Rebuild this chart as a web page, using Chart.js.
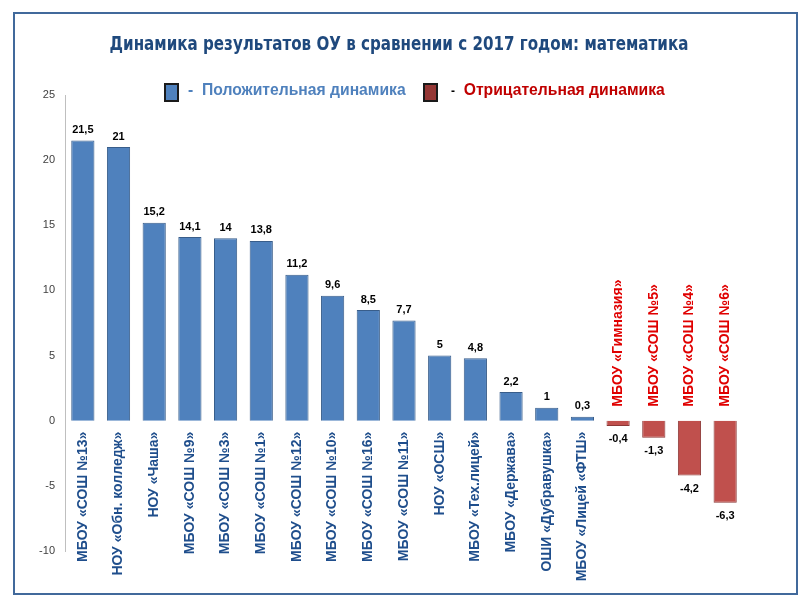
<!DOCTYPE html>
<html lang="ru">
<head>
<meta charset="UTF-8">
<title>Динамика результатов ОУ: математика</title>
<script src="https://cdn.jsdelivr.net/npm/chart.js@4.4.0/dist/chart.umd.min.js"></script>
<style>
  html, body { margin: 0; padding: 0; background: #fff; }
  #wrap { position: relative; width: 810px; height: 607px; }
  #frame { position: absolute; left: 13px; top: 12px; width: 781px; height: 579px;
           border: 2px solid #41699b; box-sizing: content-box; pointer-events: none; }
  #title { position: absolute; left: 0; width: 798px; top: 32px; text-align: center;
           font: bold 19px "DejaVu Sans Condensed", sans-serif; color: #1f497d;
           transform: scaleX(0.885); transform-origin: 399px 0; }
  .lg { position: absolute; top: 81px; font: bold 15.7px "Liberation Sans", sans-serif; white-space: nowrap; }
  .box { position: absolute; top: 83px; width: 11px; height: 15px; border: 2px solid #1a1a1a; }
  canvas { position: absolute; left: 0; top: 0; }
</style>
</head>
<body>
<div id="wrap">
  <canvas id="chart" width="810" height="607"></canvas>
  <div id="frame"></div>
  <div id="title">Динамика результатов ОУ в сравнении с 2017 годом: математика</div>
  <div class="box" style="left:164px; background:#4f81bd;"></div>
  <div class="lg" style="left:188px; color:#4f81bd;">-&nbsp; Положительная динамика</div>
  <div class="box" style="left:423px; background:#953735;"></div>
  <div class="lg" style="left:451px; color:#c00000;"><span style="color:#000;font-size:12px">-</span>&nbsp; Отрицательная динамика</div>
</div>

<script>
// школы (подписи категорий)
const schools = [
  'МБОУ «СОШ №13»', 'НОУ «Обн. колледж»', 'НОУ «Чаша»', 'МБОУ «СОШ №9»',
  'МБОУ «СОШ №3»', 'МБОУ «СОШ №1»', 'МБОУ «СОШ №12»', 'МБОУ «СОШ №10»',
  'МБОУ «СОШ №16»', 'МБОУ «СОШ №11»', 'НОУ «ОСШ»', 'МБОУ «Тех.лицей»',
  'МБОУ «Держава»', 'ОШИ «Дубравушка»', 'МБОУ «Лицей «ФТШ»',
  'МБОУ «Гимназия»', 'МБОУ «СОШ №5»', 'МБОУ «СОШ №4»', 'МБОУ «СОШ №6»'
];
// изменение результата по сравнению с 2017 годом
const dynamics = [21.5, 21, 15.2, 14.1, 14, 13.8, 11.2, 9.6, 8.5, 7.7, 5, 4.8, 2.2, 1, 0.3, -0.4, -1.3, -4.2, -6.3];
const yMin = -10, yMax = 25, yStep = 5;

const fillColors = dynamics.map(v => v >= 0 ? '#4f81bd' : '#c0504d');
const edgeColors = dynamics.map(v => v >= 0 ? '#385d8a' : '#8c3836');

const fmt = v => String(v).replace('.', ',');

// подписи значений и названий школ
const labelsPlugin = {
  id: 'barLabels',
  afterDatasetsDraw(chart) {
    const ctx = chart.ctx;
    const xs = chart.scales.x, ys = chart.scales.y;
    const y0 = ys.getPixelForValue(0);
    const meta = chart.getDatasetMeta(0);
    ctx.save();
    meta.data.forEach((bar, i) => {
      const v = dynamics[i];
      const x = xs.getPixelForValue(i);
      // значение
      ctx.font = 'bold 11px "Liberation Sans", sans-serif';
      ctx.fillStyle = '#000';
      ctx.textAlign = 'center';
      if (v >= 0) {
        ctx.textBaseline = 'bottom';
        ctx.fillText(fmt(v), x, bar.y - 5);
      } else {
        ctx.textBaseline = 'top';
        ctx.fillText(fmt(v), x, bar.y + 8);
      }
      // название
      ctx.save();
      ctx.font = 'bold 14px "Liberation Sans", sans-serif';
      ctx.textBaseline = 'middle';
      if (v >= 0) {
        ctx.translate(x, y0 + 11);
        ctx.rotate(-Math.PI / 2);
        ctx.textAlign = 'right';
        ctx.fillStyle = '#1f4e8c';
      } else {
        ctx.translate(x, y0 - 14);
        ctx.rotate(-Math.PI / 2);
        ctx.textAlign = 'left';
        ctx.fillStyle = '#e00000';
      }
      ctx.fillText(schools[i], 0, 0);
      ctx.restore();
    });
    ctx.restore();
  }
};

new Chart(document.getElementById('chart'), {
  type: 'bar',
  data: {
    labels: schools,
    datasets: [{
      data: dynamics,
      backgroundColor: fillColors,
      borderColor: edgeColors,
      borderWidth: 1,
      categoryPercentage: 1,
      barPercentage: 0.65
    }]
  },
  options: {
    responsive: false,
    animation: false,
    layout: { padding: { top: 95, right: 67, bottom: 56, left: 0 } },
    plugins: { legend: { display: false }, tooltip: { enabled: false } },
    scales: {
      x: { display: false },
      y: {
        min: yMin, max: yMax,
        afterFit(scale) { scale.width = 65; },
        grid: { display: false, drawTicks: false, tickLength: 0 },
        border: { display: true, color: '#bfbfbf', width: 1 },
        ticks: {
          stepSize: yStep,
          padding: 10,
          color: '#404040',
          font: { family: '"Liberation Sans", sans-serif', size: 11 }
        }
      }
    }
  },
  plugins: [labelsPlugin]
});
</script>
</body>
</html>
